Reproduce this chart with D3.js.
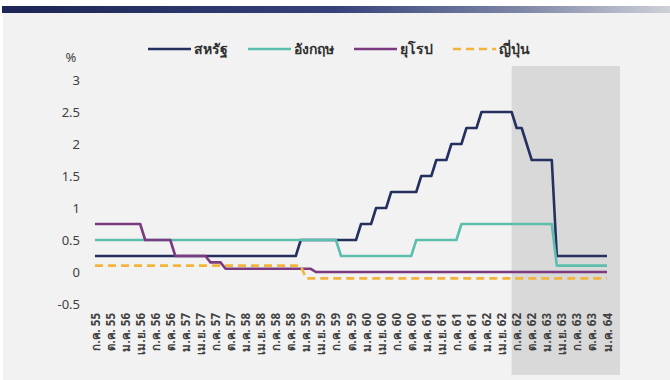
<!DOCTYPE html>
<html>
<head>
<meta charset="utf-8">
<script src="https://cdn.jsdelivr.net/npm/d3@7"></script>
<style>
  html, body { margin: 0; padding: 0; background: #ffffff; }
  svg { display: block; }
  .axis text { font-family: "Noto Sans", "Liberation Sans", sans-serif; fill: #404040; }
</style>
</head>
<body>
<svg id="chart" width="670" height="380"></svg>
<script>
// Monthly observations, ก.ค. 55 – ม.ค. 64
const months = [
  "ก.ค. 55","ส.ค. 55","ก.ย. 55","ต.ค. 55","พ.ย. 55","ธ.ค. 55",
  "ม.ค. 56","ก.พ. 56","มี.ค. 56","เม.ย. 56","พ.ค. 56","มิ.ย. 56","ก.ค. 56","ส.ค. 56","ก.ย. 56","ต.ค. 56","พ.ย. 56","ธ.ค. 56",
  "ม.ค. 57","ก.พ. 57","มี.ค. 57","เม.ย. 57","พ.ค. 57","มิ.ย. 57","ก.ค. 57","ส.ค. 57","ก.ย. 57","ต.ค. 57","พ.ย. 57","ธ.ค. 57",
  "ม.ค. 58","ก.พ. 58","มี.ค. 58","เม.ย. 58","พ.ค. 58","มิ.ย. 58","ก.ค. 58","ส.ค. 58","ก.ย. 58","ต.ค. 58","พ.ย. 58","ธ.ค. 58",
  "ม.ค. 59","ก.พ. 59","มี.ค. 59","เม.ย. 59","พ.ค. 59","มิ.ย. 59","ก.ค. 59","ส.ค. 59","ก.ย. 59","ต.ค. 59","พ.ย. 59","ธ.ค. 59",
  "ม.ค. 60","ก.พ. 60","มี.ค. 60","เม.ย. 60","พ.ค. 60","มิ.ย. 60","ก.ค. 60","ส.ค. 60","ก.ย. 60","ต.ค. 60","พ.ย. 60","ธ.ค. 60",
  "ม.ค. 61","ก.พ. 61","มี.ค. 61","เม.ย. 61","พ.ค. 61","มิ.ย. 61","ก.ค. 61","ส.ค. 61","ก.ย. 61","ต.ค. 61","พ.ย. 61","ธ.ค. 61",
  "ม.ค. 62","ก.พ. 62","มี.ค. 62","เม.ย. 62","พ.ค. 62","มิ.ย. 62","ก.ค. 62","ส.ค. 62","ก.ย. 62","ต.ค. 62","พ.ย. 62","ธ.ค. 62",
  "ม.ค. 63","ก.พ. 63","มี.ค. 63","เม.ย. 63","พ.ค. 63","มิ.ย. 63","ก.ค. 63","ส.ค. 63","ก.ย. 63","ต.ค. 63","พ.ย. 63","ธ.ค. 63",
  "ม.ค. 64"
];

// Quarterly labels shown on the x axis
const tickLabels = [
  "ก.ค. 55","ต.ค. 55",
  "ม.ค. 56","เม.ย. 56","ก.ค. 56","ต.ค. 56",
  "ม.ค. 57","เม.ย. 57","ก.ค. 57","ต.ค. 57",
  "ม.ค. 58","เม.ย. 58","ก.ค. 58","ต.ค. 58",
  "ม.ค. 59","เม.ย. 59","ก.ค. 59","ต.ค. 59",
  "ม.ค. 60","เม.ย. 60","ก.ค. 60","ต.ค. 60",
  "ม.ค. 61","เม.ย. 61","ก.ค. 61","ต.ค. 61",
  "ม.ค. 62","เม.ย. 62","ก.ค. 62","ต.ค. 62",
  "ม.ค. 63","เม.ย. 63","ก.ค. 63","ต.ค. 63",
  "ม.ค. 64"
];

const yTicks = [-0.5, 0, 0.5, 1, 1.5, 2, 2.5, 3];

// Policy rates (%), one value per month; rows = Thai calendar years 55..64
const usRate = [
  0.25,0.25,0.25,0.25,0.25,0.25,
  0.25,0.25,0.25,0.25,0.25,0.25,0.25,0.25,0.25,0.25,0.25,0.25,
  0.25,0.25,0.25,0.25,0.25,0.25,0.25,0.25,0.25,0.25,0.25,0.25,
  0.25,0.25,0.25,0.25,0.25,0.25,0.25,0.25,0.25,0.25,0.25,0.5,
  0.5,0.5,0.5,0.5,0.5,0.5,0.5,0.5,0.5,0.5,0.5,0.75,
  0.75,0.75,1,1,1,1.25,1.25,1.25,1.25,1.25,1.25,1.5,
  1.5,1.5,1.75,1.75,1.75,2,2,2,2.25,2.25,2.25,2.5,
  2.5,2.5,2.5,2.5,2.5,2.5,2.25,2.25,2,1.75,1.75,1.75,
  1.75,1.75,0.25,0.25,0.25,0.25,0.25,0.25,0.25,0.25,0.25,0.25,
  0.25
];
const ukRate = [
  0.5,0.5,0.5,0.5,0.5,0.5,
  0.5,0.5,0.5,0.5,0.5,0.5,0.5,0.5,0.5,0.5,0.5,0.5,
  0.5,0.5,0.5,0.5,0.5,0.5,0.5,0.5,0.5,0.5,0.5,0.5,
  0.5,0.5,0.5,0.5,0.5,0.5,0.5,0.5,0.5,0.5,0.5,0.5,
  0.5,0.5,0.5,0.5,0.5,0.5,0.5,0.25,0.25,0.25,0.25,0.25,
  0.25,0.25,0.25,0.25,0.25,0.25,0.25,0.25,0.25,0.25,0.5,0.5,
  0.5,0.5,0.5,0.5,0.5,0.5,0.5,0.75,0.75,0.75,0.75,0.75,
  0.75,0.75,0.75,0.75,0.75,0.75,0.75,0.75,0.75,0.75,0.75,0.75,
  0.75,0.75,0.1,0.1,0.1,0.1,0.1,0.1,0.1,0.1,0.1,0.1,
  0.1
];
const euRate = [
  0.75,0.75,0.75,0.75,0.75,0.75,
  0.75,0.75,0.75,0.75,0.5,0.5,0.5,0.5,0.5,0.5,0.25,0.25,
  0.25,0.25,0.25,0.25,0.25,0.15,0.15,0.15,0.05,0.05,0.05,0.05,
  0.05,0.05,0.05,0.05,0.05,0.05,0.05,0.05,0.05,0.05,0.05,0.05,
  0.05,0.05,0,0,0,0,0,0,0,0,0,0,
  0,0,0,0,0,0,0,0,0,0,0,0,
  0,0,0,0,0,0,0,0,0,0,0,0,
  0,0,0,0,0,0,0,0,0,0,0,0,
  0,0,0,0,0,0,0,0,0,0,0,0,
  0
];
const jpRate = [
  0.1,0.1,0.1,0.1,0.1,0.1,
  0.1,0.1,0.1,0.1,0.1,0.1,0.1,0.1,0.1,0.1,0.1,0.1,
  0.1,0.1,0.1,0.1,0.1,0.1,0.1,0.1,0.1,0.1,0.1,0.1,
  0.1,0.1,0.1,0.1,0.1,0.1,0.1,0.1,0.1,0.1,0.1,0.1,
  -0.1,-0.1,-0.1,-0.1,-0.1,-0.1,-0.1,-0.1,-0.1,-0.1,-0.1,-0.1,
  -0.1,-0.1,-0.1,-0.1,-0.1,-0.1,-0.1,-0.1,-0.1,-0.1,-0.1,-0.1,
  -0.1,-0.1,-0.1,-0.1,-0.1,-0.1,-0.1,-0.1,-0.1,-0.1,-0.1,-0.1,
  -0.1,-0.1,-0.1,-0.1,-0.1,-0.1,-0.1,-0.1,-0.1,-0.1,-0.1,-0.1,
  -0.1,-0.1,-0.1,-0.1,-0.1,-0.1,-0.1,-0.1,-0.1,-0.1,-0.1,-0.1,
  -0.1
];

const seriesNames = ["สหรัฐ", "อังกฤษ", "ยุโรป", "ญี่ปุ่น"];
const seriesValues = [usRate, ukRate, euRate, jpRate];
const seriesColors = ["#24315f", "#5cbfae", "#7b3a7f", "#f2b53a"];
const seriesDash = [null, null, null, "8,5"];

// Shaded period (from this month to the end of the axis)
const shadeFrom = "มิ.ย. 62";

const W = 670, H = 380;
const svg = d3.select("#chart");

// header band
const defs = svg.append("defs");
const grad = defs.append("linearGradient").attr("id", "band").attr("x1", "0").attr("x2", "1");
grad.append("stop").attr("offset", "0").attr("stop-color", "#1c2554");
grad.append("stop").attr("offset", "0.5").attr("stop-color", "#36437a");
grad.append("stop").attr("offset", "0.78").attr("stop-color", "#7f87a7");
grad.append("stop").attr("offset", "1").attr("stop-color", "#cfd1d9");

svg.append("rect").attr("x", 0).attr("y", 0).attr("width", W).attr("height", H).attr("fill", "#ffffff");
svg.append("rect").attr("x", 3).attr("y", 13).attr("width", W - 3).attr("height", H - 13).attr("fill", "#f2f2f2");
svg.append("rect").attr("x", 2).attr("y", 6).attr("width", W - 2).attr("height", 7).attr("fill", "url(#band)");

const x = d3.scalePoint().domain(months).range([95, 607]);
const y = d3.scaleLinear().domain([-0.5, 3]).range([304, 80]);

// shaded period
svg.append("rect")
  .attr("x", x(shadeFrom))
  .attr("y", 66)
  .attr("width", x(months[months.length - 1]) + 13 - x(shadeFrom))
  .attr("height", 375 - 66)
  .attr("fill", "#d9d9d9");

// y axis
const yAxis = svg.append("g")
  .attr("class", "axis")
  .attr("transform", "translate(84,0)")
  .call(d3.axisLeft(y).tickValues(yTicks).tickSize(0).tickPadding(4).tickFormat(d => String(d)));
yAxis.select(".domain").remove();
yAxis.selectAll("text").attr("font-size", 13);

svg.append("text")
  .attr("x", 71).attr("y", 62)
  .attr("text-anchor", "middle")
  .attr("font-family", "Noto Sans, Liberation Sans, sans-serif")
  .attr("font-size", 13)
  .attr("fill", "#404040")
  .text("%");

// x axis
const xAxis = svg.append("g")
  .attr("class", "axis")
  .attr("transform", `translate(0,${y(-0.5)})`)
  .call(d3.axisBottom(x).tickValues(tickLabels).tickSize(0));
xAxis.select(".domain").remove();
xAxis.selectAll("text")
  .attr("transform", "rotate(-90)")
  .attr("text-anchor", "end")
  .attr("x", -9)
  .attr("y", 0)
  .attr("dy", "0.35em")
  .attr("font-size", 11.5)
  .attr("font-weight", "bold");

// series lines
const line = d3.line()
  .x((d, i) => x(months[i]))
  .y(d => y(d));

seriesValues.forEach((vals, k) => {
  svg.append("path")
    .datum(vals)
    .attr("fill", "none")
    .attr("stroke", seriesColors[k])
    .attr("stroke-width", 2.6)
    .attr("stroke-linejoin", "round")
    .attr("stroke-dasharray", seriesDash[k])
    .attr("d", line);
});

// legend
const legend = svg.append("g").attr("transform", "translate(148,49)");
let lx = 0;
seriesNames.forEach((name, k) => {
  legend.append("line")
    .attr("x1", lx).attr("x2", lx + 43)
    .attr("y1", 0).attr("y2", 0)
    .attr("stroke", seriesColors[k])
    .attr("stroke-width", 2.6)
    .attr("stroke-dasharray", seriesDash[k]);
  const t = legend.append("text")
    .attr("x", lx + 46).attr("y", 0).attr("dy", "0.35em")
    .attr("font-family", "Noto Sans, Liberation Sans, sans-serif")
    .attr("font-size", 14)
    .attr("font-weight", "bold")
    .attr("fill", "#303030")
    .text(name);
  lx += 46 + t.node().getComputedTextLength() + 20;
});
</script>
</body>
</html>
